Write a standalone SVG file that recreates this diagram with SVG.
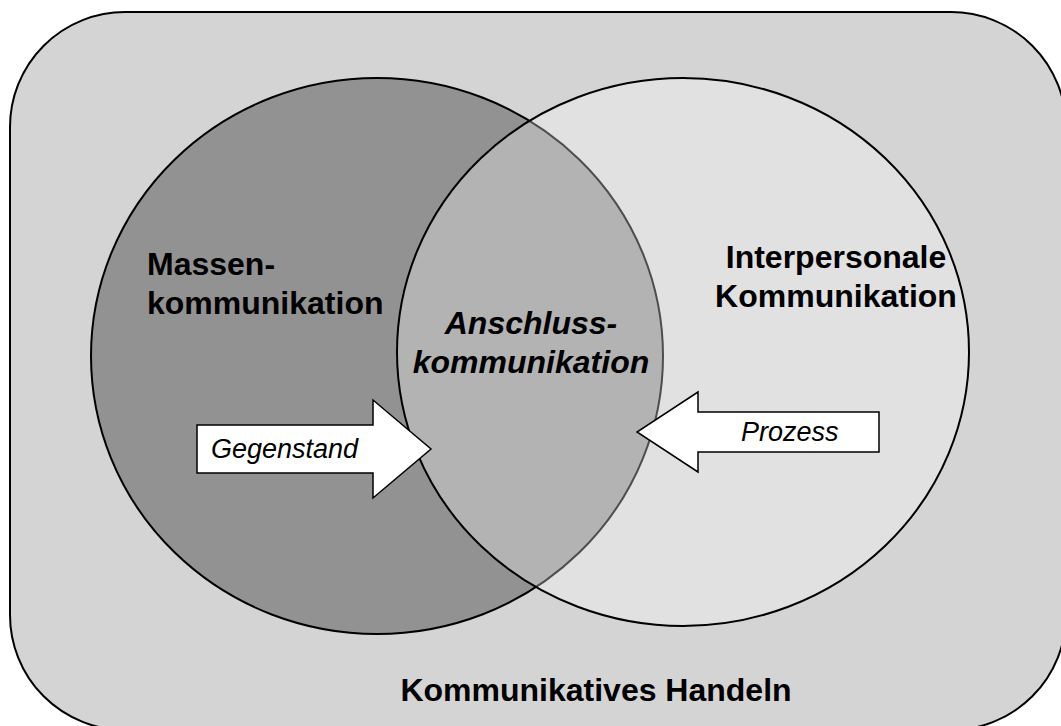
<svg xmlns="http://www.w3.org/2000/svg" width="1061" height="726" viewBox="0 0 1061 726">
<style>
.lbl{font-family:"Liberation Sans",Arial,sans-serif;font-weight:bold;font-size:32px;fill:#000}
.it{font-family:"Liberation Sans",Arial,sans-serif;font-style:italic;font-size:27px;fill:#000}
.arrow{fill:#fff;stroke:#000;stroke-width:1.5;stroke-linejoin:miter}
</style>
<rect width="1061" height="726" fill="#fff"/>
<g id="frame">
<rect x="10" y="12" width="1056" height="718" rx="115" ry="115" fill="#d4d4d4" stroke="#000" stroke-width="2"/>
<text class="lbl" x="596" y="701" text-anchor="middle">Kommunikatives Handeln</text>
</g>
<g id="massen">
<ellipse cx="377" cy="356" rx="286" ry="278" fill="#929292" stroke="#000" stroke-width="2"/>
</g>
<g id="interpersonal">
<ellipse cx="683" cy="352" rx="286" ry="274" fill="#fff" fill-opacity="0.3" stroke="#000" stroke-width="2"/>
</g>
<g id="labels">
<text class="lbl" x="147" y="275">Massen-</text>
<text class="lbl" x="147" y="314">kommunikation</text>
<text class="lbl" x="836" y="268" text-anchor="middle">Interpersonale</text>
<text class="lbl" x="836" y="307" text-anchor="middle">Kommunikation</text>
<text class="lbl" x="531" y="334" text-anchor="middle" font-style="italic">Anschluss-</text>
<text class="lbl" x="531" y="373" text-anchor="middle" font-style="italic">kommunikation</text>
</g>
<g id="connectors">
<g id="gegenstand">
<polygon class="arrow" points="197,425 373,425 373,400 431,449 373,498 373,473 197,473"/>
<text class="it" x="211" y="458">Gegenstand</text>
</g>
<g id="prozess">
<polygon class="arrow" points="879,412 698,412 698,392 637,432 698,472 698,452 879,452"/>
<text class="it" x="741" y="441">Prozess</text>
</g>
</g>
</svg>
